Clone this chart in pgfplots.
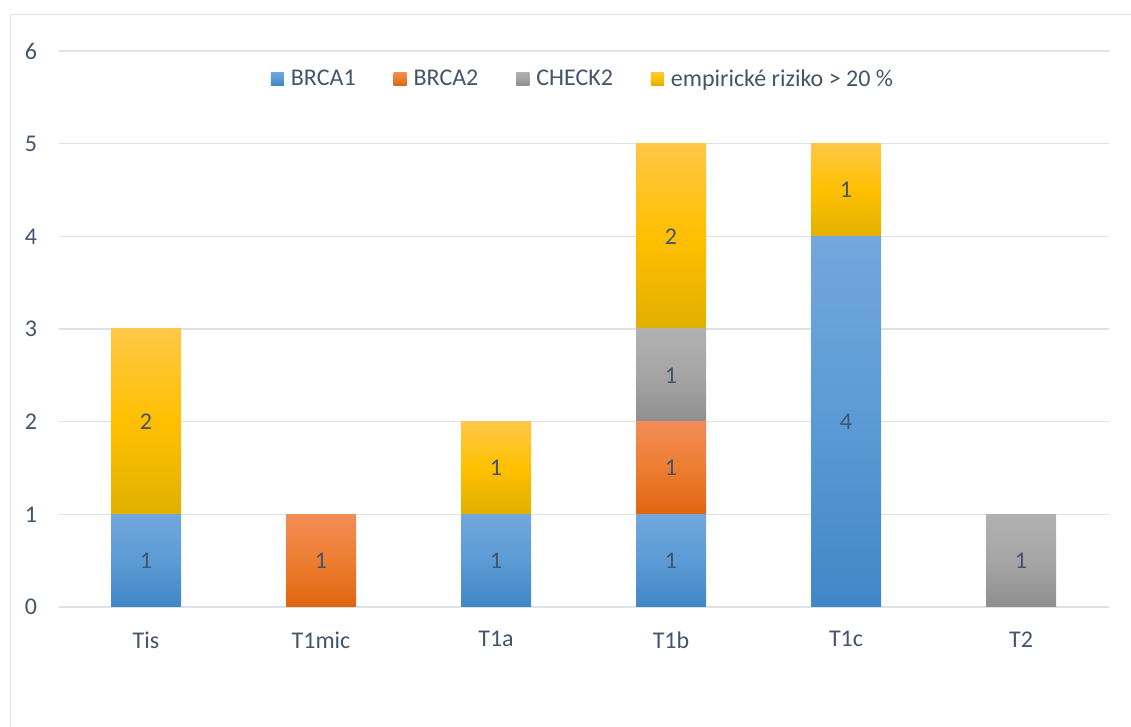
\documentclass[border=0pt]{standalone}
\usepackage{fontspec}
\setmainfont{Carlito}
\usepackage{pgfplots}
\pgfplotsset{compat=1.18}
\usepackage{pgfplotstable}
\definecolor{txt}{HTML}{44546A}
\definecolor{gridc}{HTML}{DDE2E9}
\definecolor{framec}{HTML}{DDE2E9}
\definecolor{btop}{HTML}{71A7DD}
\definecolor{bmid}{HTML}{5B9BD5}
\definecolor{bbot}{HTML}{4186C7}
\definecolor{otop}{HTML}{F28D57}
\definecolor{omid}{HTML}{ED7D31}
\definecolor{obot}{HTML}{E0650F}
\definecolor{gtop}{HTML}{B1B1B1}
\definecolor{gmid}{HTML}{A5A5A5}
\definecolor{gbot}{HTML}{8F8F8F}
\definecolor{ytop}{HTML}{FFC746}
\definecolor{ymid}{HTML}{FFC000}
\definecolor{ybot}{HTML}{E1B000}
\pgfplotstableread{
x b1 b2 ch emp
0 1 0 0 2
1 0 1 0 0
2 1 0 0 1
3 1 1 1 2
4 4 0 0 1
5 0 0 1 0
}\data
\newcommand{\bigfont}{\fontsize{24}{28}\selectfont}
\pgfplotsset{
  seg/.style n args={4}{
    draw=none, fill=none,
    visualization depends on={\thisrow{#1}\as\val},
    nodes near coords={\pgfmathfloatifflags{\pgfplotspointmeta}{0}{}{\pgfmathprintnumber{\pgfplotspointmeta}}},
    every node near coord/.append style={anchor=center, inner sep=0pt,
      minimum width=70pt, minimum height=\val*92.667pt,
      top color=#2, bottom color=#4, middle color=#3,
      font=\bigfont, text=txt, draw=none},
    legend image code/.code={\path[top color=#2, bottom color=#4, middle color=#3] (0pt,-6.5pt) rectangle (13pt,6.5pt);},
  }
}
\begin{document}
\begin{tikzpicture}[x=1pt,y=1pt]
\path[use as bounding box] (0,0) rectangle (1131,727);
\draw[framec, line width=1.5pt] (10.5,0) -- (10.5,712.5) -- (1131,712.5);
\begin{axis}[
  at={(58.5pt,120pt)}, anchor=south west,
  x=175pt, y=92.667pt,
  xmin=-0.5, xmax=5.5, ymin=0, ymax=6,
  ybar stacked, bar width=70pt,
  axis line style={draw=none},
  tick style={draw=none},
  ymajorgrids, grid style={gridc, line width=1.5pt},
  ytick={0,1,2,3,4,5,6},
  xtick={0,1,2,3,4,5},
  xticklabels={Tis,T1mic,T1a,T1b,T1c,T2},
  /pgf/number format/assume math mode=true,
  ticklabel style={font=\bigfont, text=txt},
  yticklabel style={xshift=-18pt},
  xticklabel style={yshift=-21pt},
  legend columns=-1,
  legend style={draw=none, fill=none, at={(0.5,0.9505)}, anchor=center,
    font=\bigfont, text=txt,
    nodes={inner sep=3pt},
    /tikz/every even column/.append style={column sep=35pt},
    /tikz/every odd column/.append style={column sep=4pt}},
]
\addplot[seg={b1}{btop}{bmid}{bbot}] table[x=x,y=b1]{\data};
\addplot[seg={b2}{otop}{omid}{obot}] table[x=x,y=b2]{\data};
\addplot[seg={ch}{gtop}{gmid}{gbot}] table[x=x,y=ch]{\data};
\addplot[seg={emp}{ytop}{ymid}{ybot}] table[x=x,y=emp]{\data};
\legend{BRCA1,BRCA2,CHECK2,empirické riziko > 20 \%}
\end{axis}
\end{tikzpicture}
\end{document}
